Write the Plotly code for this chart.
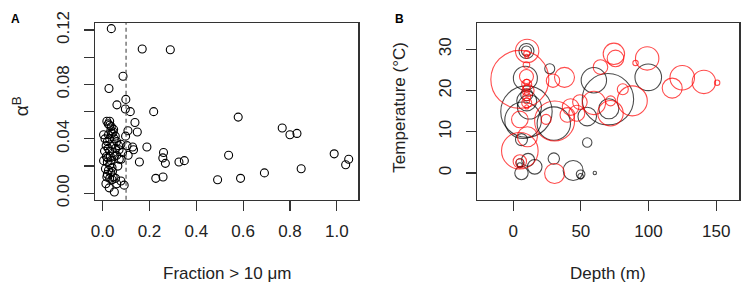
import plotly.graph_objects as go

# ---------------- Panel A data ----------------
a_fraction = [
    0.037, 0.169, 0.289, 0.087, 0.027, 0.099, 0.061, 0.097, 0.118, 0.218,
    0.579, 0.138, 0.767, 0.800, 0.830, 0.148, 0.108, 0.098, 0.189, 0.128,
    0.132, 0.104, 0.260, 0.257, 0.268, 0.157, 0.109, 0.326, 0.349, 0.538,
    0.989, 1.051, 1.038, 0.848, 0.691, 0.227, 0.258, 0.491, 0.589,
    0.050, 0.092, 0.078, 0.014, 0.028, 0.060, 0.040, 0.018, 0.030, 0.045,
    0.055, 0.020, 0.035, 0.025, 0.040, 0.030, 0.020, 0.004, 0.016, 0.035,
    0.050, 0.060, 0.071, 0.079, 0.045, 0.030, 0.024, 0.055, 0.068, 0.078,
    0.085, 0.040, 0.020, 0.010, 0.030, 0.050, 0.004, 0.025, 0.054, 0.045,
    0.035, 0.047, 0.037, 0.030, 0.018, 0.030, 0.024, 0.040, 0.015, 0.060,
    0.070, 0.012, 0.022, 0.033, 0.065, 0.008, 0.042,
]
a_alpha = [
    0.121, 0.106, 0.1055, 0.086, 0.077, 0.069, 0.065, 0.062, 0.060, 0.060,
    0.056, 0.052, 0.048, 0.043, 0.044, 0.045, 0.046, 0.042, 0.034, 0.034,
    0.032, 0.035, 0.030, 0.026, 0.022, 0.023, 0.028, 0.023, 0.024, 0.028,
    0.029, 0.025, 0.021, 0.018, 0.015, 0.011, 0.012, 0.010, 0.011,
    0.001, 0.006, 0.009, 0.007, 0.004, 0.007, 0.010, 0.012, 0.011, 0.012,
    0.011, 0.014, 0.015, 0.017, 0.019, 0.021, 0.023, 0.024, 0.027, 0.024,
    0.027, 0.028, 0.025, 0.025, 0.030, 0.031, 0.033, 0.033, 0.035, 0.036,
    0.030, 0.036, 0.038, 0.040, 0.040, 0.040, 0.043, 0.043, 0.042, 0.045,
    0.046, 0.047, 0.049, 0.050, 0.053, 0.053, 0.051, 0.044, 0.035, 0.038,
    0.032, 0.018, 0.026, 0.027, 0.020, 0.031, 0.016,
]
a_threshold = 0.1
a_xticks = [0.0, 0.2, 0.4, 0.6, 0.8, 1.0]
a_xticklabels = ["0.0", "0.2", "0.4", "0.6", "0.8", "1.0"]
a_yticks = [0.00, 0.04, 0.08, 0.12]
a_yticklabels = ["0.00", "0.04", "0.08", "0.12"]
a_yminor = [0.02, 0.06, 0.10]

# ---------------- Panel B data ----------------
# black group: depth (m), temperature (C), relative bubble value
b_black_depth = [9.8, 9.8, 27, 9, 9.8, 7.3, 30, 10, 12, 10,
                 6.1, 30, 15.9, 6.1, 11, 4.9, 5, 59.6, 70, 70.7,
                 54.7, 99.8, 54.7, 44.3, 49.8, 49.8, 60.3]
b_black_temp = [29.6, 29.6, 25.3, 23.0, 14.9, 12.8, 12.0, 17.5, 16.0, 19.0,
                8.1, 3.5, 1.5, 0.0, 3.2, 1.9, 2.5, 22.5, 17.9, 15.6,
                13.7, 23.2, 7.4, 0.6, -0.3, -0.8, 0.0]
b_black_value = [7.5, 5, 5, 12, 25.7, 18.3, 16.7, 10, 12, 6,
                 6, 5.7, 7.3, 6.7, 6.5, 2.5, 4, 12.7, 25.7, 10,
                 9.3, 13.3, 4.7, 10, 4.3, 2.8, 1.7]

b_red_depth = [4.9, 10.3, 10, 10, 9.8, 9.8, 10, 10, 10, 10,
               10, 10, 10, 10, 11, 37.9, 29.4, 30.6, 4.9, 10.5,
               4.9, 4.9, 4.9, 30.6, 24.3, 74.4, 75.6, 99, 90.4, 64.5,
               124.9, 140.9, 117.5, 150.7, 81, 88, 59.6, 71.9, 72, 49.3,
               42.4, 40, 47]
b_red_temp = [22.7, 29.6, 29.0, 28.3, 26.2, 23.4, 21.5, 22.0, 20.5, 19.5,
              18.5, 17.5, 17.0, 16.0, 20.0, 23.2, 22.4, 12.6, 13.0, 8.8,
              5.4, 2.8, 2.5, -0.1, 13.0, 28.9, 27.8, 27.8, 26.7, 25.7,
              23.1, 22.1, 20.6, 21.9, 20.3, 17.5, 17.0, 14.5, 17.5, 17.2,
              16.0, 14.1, 14.5]
b_red_value = [29, 11.7, 3, 2, 3.3, 7, 5, 3, 3.5, 2.5,
               4, 3, 5, 2, 6, 10, 6.7, 20, 8.3, 10,
               18.3, 6.7, 4, 10, 5, 10.7, 8.3, 11.7, 2.7, 7.3,
               12.3, 11.7, 10, 2.7, 5.5, 15, 11.7, 12.7, 5, 7.3,
               8.3, 7.3, 8]
b_xticks = [0, 50, 100, 150]
b_yticks = [0, 10, 20, 30]

# ---------------- figure ----------------
W, H = 743, 290
FONT = "Liberation Sans, Arial, sans-serif"
TXT = "#222222"
LINE = "#333333"


def px(v):
    return v / W


def py(v):
    return 1 - v / H


BUBBLE_SCALE = 2.0  # value -> diameter in px

fig = go.Figure()

fig.add_trace(go.Scatter(
    x=a_fraction, y=a_alpha, mode="markers", xaxis="x", yaxis="y",
    marker=dict(symbol="circle-open", size=8, color="black",
                line=dict(width=1.1, color="black")),
    showlegend=False, hoverinfo="skip",
))

fig.add_trace(go.Scatter(
    x=b_black_depth, y=b_black_temp, mode="markers", xaxis="x2", yaxis="y2",
    marker=dict(symbol="circle-open", sizemode="diameter",
                size=[v * BUBBLE_SCALE for v in b_black_value], color="black",
                line=dict(width=1.1, color="black")),
    showlegend=False, hoverinfo="skip", cliponaxis=True,
))
fig.add_trace(go.Scatter(
    x=b_red_depth, y=b_red_temp, mode="markers", xaxis="x2", yaxis="y2",
    marker=dict(symbol="circle-open", sizemode="diameter",
                size=[v * BUBBLE_SCALE for v in b_red_value], color="#ff0000",
                line=dict(width=1.1, color="#ff0000")),
    showlegend=False, hoverinfo="skip", cliponaxis=True,
))

# threshold dashed line in panel A
fig.add_shape(type="line", xref="x", yref="y domain",
              x0=a_threshold, x1=a_threshold, y0=0, y1=1,
              line=dict(color="#555555", width=1.2, dash="4px,3px"))

axis_common = dict(
    showgrid=False, zeroline=False, showline=True, mirror=True,
    linecolor=LINE, linewidth=1.2, ticks="outside", ticklen=10,
    tickwidth=1.2, tickcolor=LINE,
    tickfont=dict(family=FONT, size=17, color=TXT),
)
X_STANDOFF = 6
Y_STANDOFF = 8

y_dom = [py(201), py(11.7)]

fig.update_layout(
    width=W, height=H,
    margin=dict(l=0, r=0, t=0, b=0),
    paper_bgcolor="white", plot_bgcolor="white",
    font=dict(family=FONT, color=TXT),
    xaxis=dict(domain=[px(91), px(355.7)], range=[-0.031, 1.092],
               tickvals=a_xticks, ticktext=a_xticklabels, anchor="y",
               ticklabelstandoff=X_STANDOFF, **axis_common),
    yaxis=dict(domain=y_dom, range=[-0.0048, 0.1252],
               tickvals=a_yticks, ticktext=a_yticklabels,
               minor=dict(tickvals=a_yminor, ticks="outside", ticklen=10,
                          tickwidth=1.2, tickcolor=LINE, showgrid=False),
               tickangle=-90, anchor="x", ticklabelstandoff=Y_STANDOFF,
               **axis_common),
    xaxis2=dict(domain=[px(475), px(739.3)], range=[-26.9, 167.1],
                tickvals=b_xticks, ticktext=[str(v) for v in b_xticks],
                anchor="y2", ticklabelstandoff=X_STANDOFF, **axis_common),
    yaxis2=dict(domain=y_dom, range=[-6.5, 36.4],
                tickvals=b_yticks, ticktext=[str(v) for v in b_yticks],
                tickangle=-90, anchor="x2", ticklabelstandoff=Y_STANDOFF,
                **axis_common),
)

ann_font = dict(family=FONT, size=17, color=TXT)
fig.add_annotation(text="Fraction &gt; 10 μm", xref="x domain", yref="paper",
                   x=0.5, y=py(280), showarrow=False, font=ann_font,
                   xanchor="center", yanchor="middle")
fig.add_annotation(text="Depth (m)", xref="x2 domain", yref="paper",
                   x=0.5, y=py(280), showarrow=False, font=ann_font,
                   xanchor="center", yanchor="middle")
fig.add_annotation(text="α<sup>B</sup>", xref="paper", yref="paper",
                   x=px(16), y=py(101), showarrow=False,
                   font=dict(family=FONT, size=19, color=TXT),
                   textangle=-90, xanchor="center", yanchor="middle")
fig.add_annotation(text="Temperature (°C)", xref="paper", yref="paper",
                   x=px(397), y=py(102), showarrow=False, font=ann_font,
                   textangle=-90, xanchor="center", yanchor="middle")
fig.add_annotation(text="<b>A</b>", xref="paper", yref="paper",
                   x=px(10.5), y=py(8), showarrow=False,
                   font=dict(family=FONT, size=12, color="black"),
                   xanchor="center", yanchor="middle")
fig.add_annotation(text="<b>B</b>", xref="paper", yref="paper",
                   x=px(397.5), y=py(8), showarrow=False,
                   font=dict(family=FONT, size=12, color="black"),
                   xanchor="center", yanchor="middle")

fig.write_html(
    "out.html",
    config={"displayModeBar": False, "staticPlot": True},
    post_script="document.body.style.margin='0';document.body.style.overflow='hidden';",
)
